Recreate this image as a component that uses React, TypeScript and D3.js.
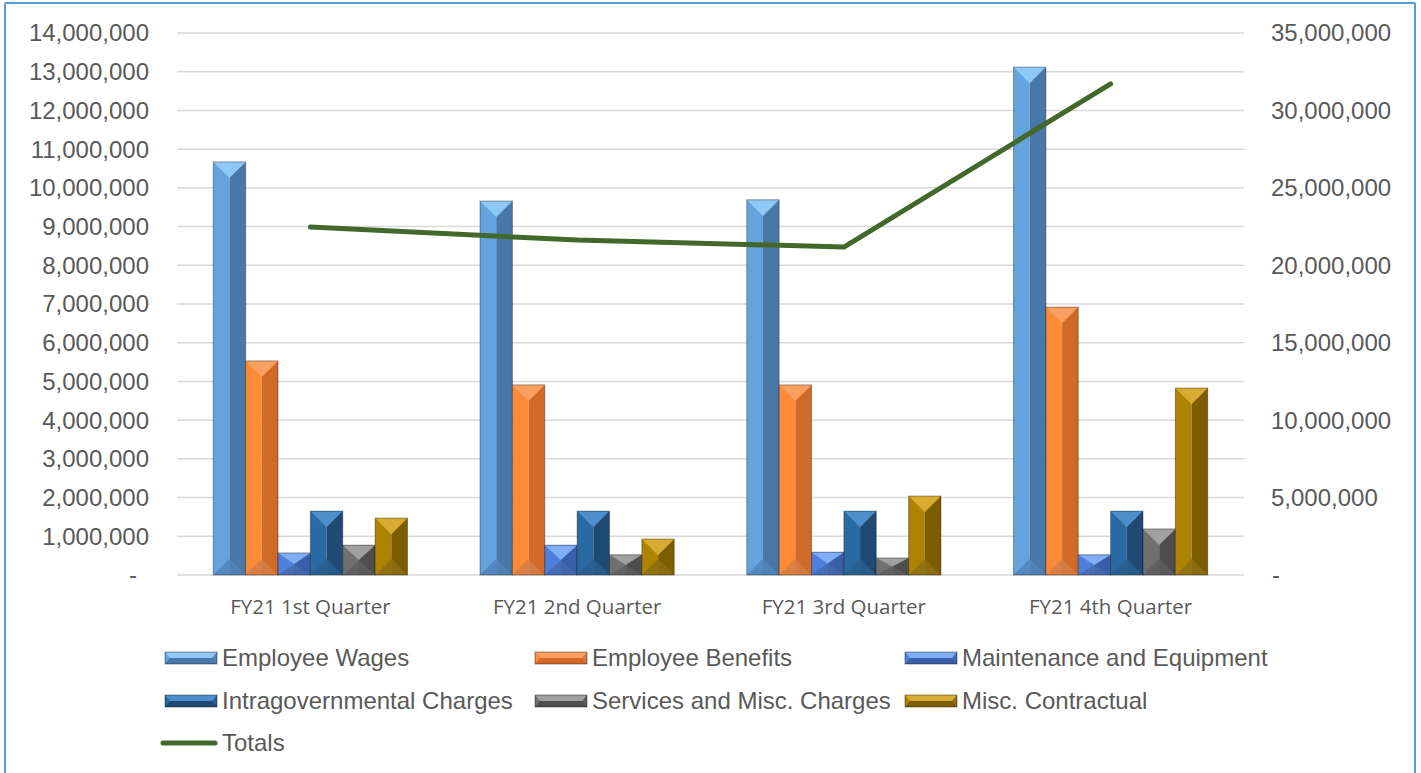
import React from "react";
import * as d3 from "d3";

const categories = ["FY21 1st Quarter", "FY21 2nd Quarter", "FY21 3rd Quarter", "FY21 4th Quarter"];
const seriesNames = [
  "Employee Wages",
  "Employee Benefits",
  "Maintenance and Equipment",
  "Intragovernmental Charges",
  "Services and Misc. Charges",
  "Misc. Contractual",
];
const employeeWages = [10670000, 9660000, 9690000, 13120000];
const employeeBenefits = [5530000, 4910000, 4910000, 6920000];
const maintenance = [570000, 770000, 590000, 520000];
const intragovernmental = [1650000, 1650000, 1650000, 1650000];
const services = [770000, 520000, 440000, 1190000];
const miscContractual = [1470000, 930000, 2040000, 4830000];
const totals = [22470000, 21630000, 21180000, 31710000];
const leftTicks = d3.range(0, 14000001, 1000000);
const rightTicks = d3.range(0, 35000001, 5000000);

const seriesValues = [employeeWages, employeeBenefits, maintenance, intragovernmental, services, miscContractual];

// left, right, top, bottom bevel colors
const palettes = [
  { l: "#65A3DE", r: "#4778A8", t: "#8FC8F5", b: "#5284B8" },
  { l: "#FD8A37", r: "#D06A28", t: "#FBA060", b: "#D27C45" },
  { l: "#4E7FDA", r: "#3A5FA8", t: "#82AEF6", b: "#4468AE" },
  { l: "#2A6AA2", r: "#1E4A74", t: "#4E8FCB", b: "#2A5E8E" },
  { l: "#707070", r: "#4E4E4E", t: "#A0A0A0", b: "#5E5E5E" },
  { l: "#AE8300", r: "#7C5E00", t: "#D8AC32", b: "#8E6E12" },
];

const W = 1421;
const H = 773;
const plotL = 177;
const plotR = 1244;
const plotT = 33;
const plotB = 575;

function Bar({ x, y, w, h, p }: { x: number; y: number; w: number; h: number; p: any }) {
  const half = w / 2;
  const bev = Math.min(half, h / 2);
  return (
    <g>
      <rect x={x} y={y} width={half} height={h} fill={p.l} />
      <rect x={x + half} y={y} width={w - half} height={h} fill={p.r} />
      <polygon points={`${x},${y} ${x + w},${y} ${x + half},${y + bev}`} fill={p.t} />
      <polygon points={`${x},${y + h} ${x + w},${y + h} ${x + half},${y + h - bev}`} fill={p.b} opacity={0.85} />
      <rect x={x} y={y} width={w} height={h} fill="none" stroke="#000" strokeOpacity={0.35} strokeWidth={1} />
    </g>
  );
}

function Swatch({ x, y, p }: { x: number; y: number; p: any }) {
  const w = 52;
  const h = 12;
  return (
    <g>
      <rect x={x} y={y - h / 2} width={w} height={h / 2} fill={p.t} />
      <rect x={x} y={y} width={w} height={h / 2} fill={p.r} />
      <polygon points={`${x},${y - h / 2} ${x + 5},${y} ${x},${y + h / 2}`} fill={p.l} />
      <polygon points={`${x + w},${y - h / 2} ${x + w - 5},${y} ${x + w},${y + h / 2}`} fill={p.b} />
      <rect x={x} y={y - h / 2} width={w} height={h} fill="none" stroke="#000" strokeOpacity={0.4} />
    </g>
  );
}

export default function App() {
  const x0 = d3.scaleBand<string>().domain(categories).range([plotL, plotR]).paddingInner(0).paddingOuter(0);
  const groupW = x0.bandwidth() * 0.728;
  const x1 = d3.scaleBand<string>().domain(seriesNames).range([0, groupW]).padding(0);
  const yL = d3.scaleLinear().domain([0, 14000000]).range([plotB, plotT]);
  const yR = d3.scaleLinear().domain([0, 35000000]).range([plotB, plotT]);
  const fmt = d3.format(",");
  const line = d3
    .line<number>()
    .x((_, i) => (x0(categories[i]) as number) + x0.bandwidth() / 2)
    .y((d) => yR(d));

  const legendItems = [
    { name: seriesNames[0], x: 165, y: 658 },
    { name: seriesNames[1], x: 535, y: 658 },
    { name: seriesNames[2], x: 905, y: 658 },
    { name: seriesNames[3], x: 165, y: 701 },
    { name: seriesNames[4], x: 535, y: 701 },
    { name: seriesNames[5], x: 905, y: 701 },
  ];

  const font = "'Liberation Sans', Arial, sans-serif";

  return (
    <svg width={W} height={H} style={{ position: "absolute", left: 0, top: 0, background: "#fff" }}>
      <rect x={0} y={0} width={W} height={H} fill="#fff" />
      {/* frame */}
      <line x1={5} y1={3} x2={1415} y2={3} stroke="#5B9BD5" strokeWidth={2} />
      <line x1={5} y1={3} x2={5} y2={H} stroke="#5B9BD5" strokeWidth={2} />
      <line x1={1415} y1={3} x2={1415} y2={H} stroke="#5B9BD5" strokeWidth={2} />

      {/* gridlines */}
      {leftTicks.map((t) => (
        <line key={t} x1={plotL} x2={plotR} y1={yL(t)} y2={yL(t)} stroke="#D9D9D9" strokeWidth={1.5} />
      ))}

      {/* left axis labels */}
      {leftTicks.map((t) => (
        <text key={t} x={t === 0 ? 137 : 149} y={yL(t)} dy="0.35em" textAnchor="end" fontFamily={font} fontSize={24} fill="#595959">
          {t === 0 ? "-" : fmt(t)}
        </text>
      ))}
      {/* right axis labels */}
      {rightTicks.map((t) => (
        <text key={t} x={t === 0 ? 1272 : 1271} y={yR(t)} dy="0.35em" textAnchor="start" fontFamily={font} fontSize={24} fill="#595959">
          {t === 0 ? "-" : fmt(t)}
        </text>
      ))}

      {/* bars */}
      {categories.map((c, ci) => {
        const gx = (x0(c) as number) + (x0.bandwidth() - groupW) / 2;
        return (
          <g key={c}>
            {seriesNames.map((s, si) => {
              const v = seriesValues[si][ci];
              const y = yL(v);
              return <Bar key={s} x={gx + (x1(s) as number)} y={y} w={x1.bandwidth()} h={plotB - y} p={palettes[si]} />;
            })}
          </g>
        );
      })}

      {/* totals line */}
      <path d={line(totals) || ""} fill="none" stroke="#43682B" strokeWidth={5} strokeLinecap="round" strokeLinejoin="round" />

      {/* category labels */}
      {categories.map((c) => (
        <text key={c} x={(x0(c) as number) + x0.bandwidth() / 2} y={607} dy="0.35em" textAnchor="middle" fontFamily="'Open Sans', 'Noto Sans', sans-serif" fontSize={20.5} fill="#595959">
          {c}
        </text>
      ))}

      {/* legend */}
      {legendItems.map((it, i) => (
        <g key={it.name}>
          <Swatch x={it.x} y={it.y} p={palettes[i]} />
          <text x={it.x + 57} y={it.y} dy="0.35em" fontFamily={font} fontSize={24} fill="#595959">
            {it.name}
          </text>
        </g>
      ))}
      <line x1={163} x2={215} y1={743} y2={743} stroke="#43682B" strokeWidth={5} strokeLinecap="round" />
      <text x={222} y={743} dy="0.35em" fontFamily={font} fontSize={24} fill="#595959">
        Totals
      </text>
    </svg>
  );
}
